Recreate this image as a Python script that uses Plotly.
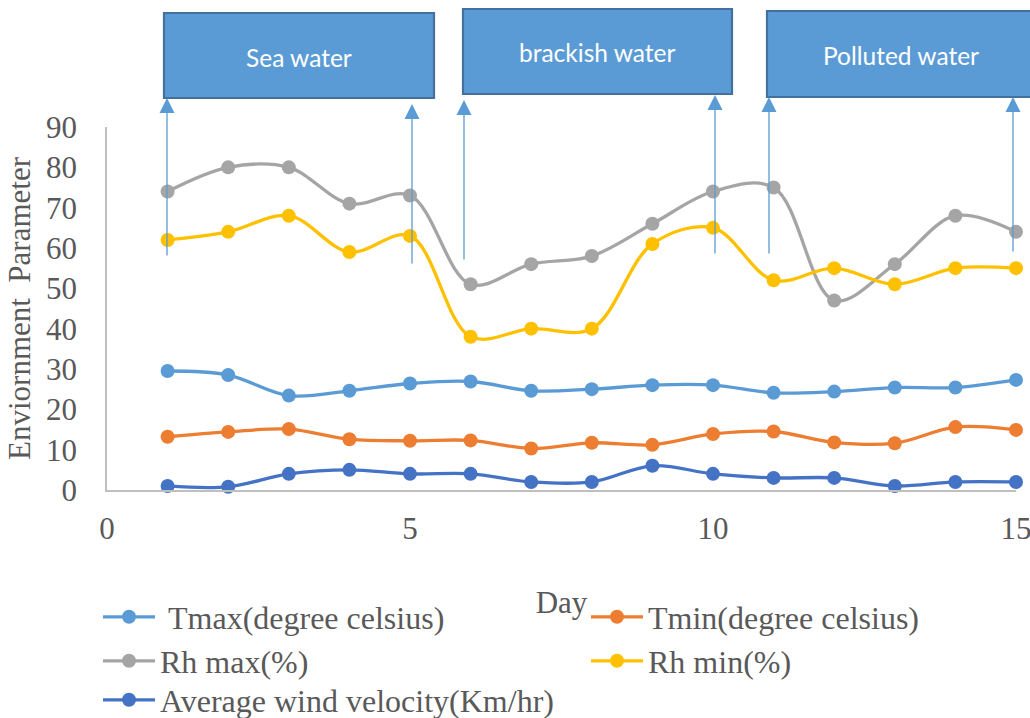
import plotly.graph_objects as go

# ---------------- data ----------------
days = list(range(1, 16))
tmax = [29.5, 28.5, 23.4, 24.6, 26.4, 26.9, 24.6, 25.0, 26.0, 26.0, 24.1, 24.4, 25.4, 25.4, 27.3]
tmin = [13.2, 14.4, 15.1, 12.6, 12.2, 12.3, 10.3, 11.7, 11.2, 13.9, 14.5, 11.8, 11.6, 15.6, 14.9]
rh_max = [74, 80, 80, 71, 73, 51, 56, 58, 66, 74, 75, 47, 56, 68, 64]
rh_min = [62, 64, 68, 59, 63, 38, 40, 40, 61, 65, 52, 55, 51, 55, 55]
wind = [1, 0.8, 4, 5, 4, 4, 2, 2, 6, 4, 3, 3, 1, 2, 2]

series_names = ["\u00a0Tmax(degree celsius)", "Tmin(degree celsius)", "Rh max(%)",
                "Rh min(%)", "Average wind velocity(Km/hr)"]
series_values = [tmax, tmin, rh_max, rh_min, wind]
series_colors = ["#5B9BD5", "#ED7D31", "#A5A5A5", "#FFC000", "#4472C4"]

x_ticks = [0, 5, 10, 15]
y_ticks = [0, 10, 20, 30, 40, 50, 60, 70, 80, 90]

box_labels = ["Sea water", "brackish water", "Polluted water"]

# ---------------- layout geometry ----------------
W, H = 1030, 718
L, R, T, B = 107, 14, 127, 228
PW, PH = W - L - R, H - T - B


def px_x(px):
    return (px - L) / PW


def px_y(py):
    return (H - B - py) / PH


def dx(px):
    return (px - L) / PW * 15


def dy(py):
    return (H - B - py) / PH * 90


font_main = dict(family="Liberation Serif", size=31, color="#595959")
font_legend = dict(family="Liberation Serif", size=32, color="#595959")

# legend placement (pixel positions of each entry)
legend_pos = [(98, 617), (586, 617), (98, 661), (586, 661), (98, 700)]
legend_ids = ["legend", "legend2", "legend3", "legend4", "legend5"]

fig = go.Figure()
for name, vals, col, lg in zip(series_names, series_values, series_colors, legend_ids):
    fig.add_trace(go.Scatter(
        x=days, y=vals, name=name, mode="lines+markers",
        line=dict(color=col, width=3.3, shape="spline", smoothing=1.0),
        marker=dict(color=col, size=14),
        legend=lg, cliponaxis=False, showlegend=True,
    ))

# boxes (pixel geometry)
boxes_px = [(164, 13, 434, 98), (463, 9, 732, 94), (767, 11, 1040, 97)]
texts_px = [(299, 57), (597, 52), (901, 55)]
shapes = []
annotations = []
for (x0, y0, x1, y1), (tx, ty), lab in zip(boxes_px, texts_px, box_labels):
    shapes.append(dict(type="rect", xref="paper", yref="paper",
                       x0=px_x(x0), x1=px_x(x1), y0=px_y(y1), y1=px_y(y0),
                       fillcolor="#5B9BD5", line=dict(color="#41719C", width=2.2),
                       layer="above"))
    annotations.append(dict(xref="paper", yref="paper", x=px_x(tx), y=px_y(ty),
                            text=lab, showarrow=False,
                            font=dict(family="Lato", size=24.5, color="white"),
                            xanchor="center", yanchor="middle"))

# arrows
arrows_px = [(167, 98, 257), (412, 104, 265), (464, 100, 261),
             (715, 95, 255), (769, 97, 255), (1013, 97, 253)]
for ax_px, tip, tail in arrows_px:
    annotations.append(dict(xref="x", yref="y", axref="x", ayref="y",
                            x=dx(ax_px), y=dy(tip), ax=dx(ax_px), ay=dy(tail),
                            text="", showarrow=True, arrowhead=2, arrowsize=2.3,
                            arrowwidth=1.3, arrowcolor="#5B9BD5"))

legends = {}
for lg, (lx, ly) in zip(legend_ids, legend_pos):
    legends[lg] = dict(orientation="h", x=px_x(lx), y=px_y(ly), xanchor="left",
                       yanchor="middle", font=font_legend, bgcolor="rgba(0,0,0,0)",
                       itemwidth=52, visible=True)

fig.update_layout(
    width=W, height=H,
    showlegend=True,
    margin=dict(l=L, r=R, t=T, b=B, autoexpand=False),
    paper_bgcolor="white", plot_bgcolor="white",
    font=font_main,
    shapes=shapes, annotations=annotations,
    xaxis=dict(range=[0, 15], tickvals=x_ticks, ticks="", showgrid=False, zeroline=False,
               showline=True, linecolor="#BFBFBF", linewidth=1.5,
               tickfont=font_main, ticklabelstandoff=10, ticklabeloverflow="allow",
               title=dict(text="Day", font=font_main, standoff=46), automargin=False),
    yaxis=dict(range=[0, 90], tickvals=y_ticks, ticks="", showgrid=False, zeroline=False,
               showline=True, linecolor="#BFBFBF", linewidth=1.5,
               tickfont=font_main, ticklabelstandoff=22,
               title=dict(text="Enviornment\u00a0 Parameter", font=font_main, standoff=6),
               automargin=False),
    **legends,
)

fig.write_html("out.html", config={"displayModeBar": False},
               post_script="document.body.style.margin='0px';")
